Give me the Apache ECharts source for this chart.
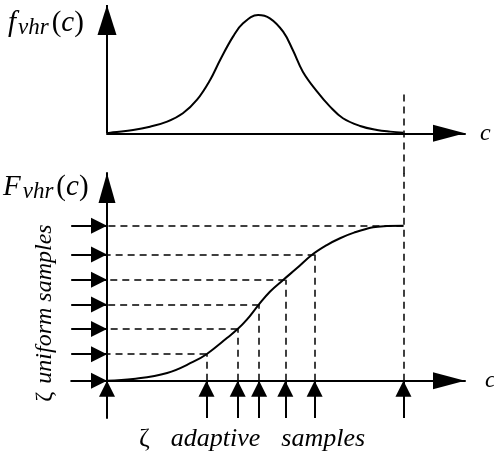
<!DOCTYPE html>
<html>
<head>
<meta charset="utf-8">
<script src="https://cdn.jsdelivr.net/npm/echarts@6/dist/echarts.min.js"></script>
<style>
html, body { margin: 0; padding: 0; background: #fff; }
#main { width: 494px; height: 456px; }
</style>
</head>
<body>
<div id="main"></div>
<script>
// density f_vhr(c)
var pdfC = [0, 1.7, 7.3, 12.0, 16.8, 21.2, 25.1, 28.8, 31.6, 35.2, 38.0, 42.2, 45.5, 49.2, 51.9, 54.7, 58.7, 62.3, 65.9, 70.7, 75.4, 79.1, 82.8]
var pdfF = [0, 0.008, 0.028, 0.056, 0.098, 0.169, 0.282, 0.451, 0.62, 0.817, 0.93, 1.0, 0.972, 0.859, 0.704, 0.521, 0.352, 0.225, 0.127, 0.062, 0.028, 0.014, 0.005]
// distribution F_vhr(c)
var cdfC = [0, 7.3, 16.8, 24.0, 27.8, 33.5, 36.5, 39.0, 42.3, 45.5, 49.2, 53.0, 57.2, 61.4, 65.1, 69.0, 74.3, 78.2, 82.8]
var cdfF = [0, 0.011, 0.05, 0.121, 0.171, 0.275, 0.333, 0.392, 0.488, 0.574, 0.65, 0.725, 0.811, 0.875, 0.919, 0.955, 0.99, 0.998, 1.0]
// uniform samples on the F axis and the c values they map to
var uniformLevels = [0, 0.171, 0.333, 0.492, 0.651, 0.815, 1.0]
var adaptiveSamples = [0, 27.8, 36.5, 42.5, 49.8, 58.0, 82.8]
// top of the dashed guide in the upper plot
var guideTop = 0.366

// axis ranges (they run past the data so the arrows fit in the grids)
var xMax = 100
var topYMin = -0.34
var topYMax = 1.085
var botXMin = -10
var botYMin = -0.24
var botYMax = 1.34

var serif = "'Liberation Serif', 'DejaVu Serif', serif"
var black = '#000'

function pairs (xs, ys) {
  var out = []
  for (var i = 0; i < xs.length; i++) out.push([xs[i], ys[i]])
  return out
}

function axisOpts (grid, min, max, line) {
  return {
    gridIndex: grid,
    type: 'value',
    min: min,
    max: max,
    axisLine: line,
    axisTick: { show: false },
    axisLabel: { show: false },
    splitLine: { show: false }
  }
}

function arrowLine (len) {
  return {
    show: true,
    onZero: true,
    symbol: ['none', 'triangle'],
    symbolSize: [17, len],
    symbolOffset: [0, -len / 2],
    lineStyle: { color: black, width: 2 }
  }
}

function marks (data, dashed, size) {
  return {
    silent: true,
    animation: false,
    symbol: dashed ? ['none', 'none'] : ['none', 'triangle'],
    symbolSize: size || 10,
    symbolOffset: [0, [0, size ? size[1] / 2 : 0]],
    label: { show: false },
    emphasis: { disabled: true },
    lineStyle: { color: black, width: dashed ? 1.5 : 2, type: dashed ? [7, 5] : 'solid' },
    data: data
  }
}

// dashed guides in the lower plot
var guides = []
for (var i = 1; i < uniformLevels.length; i++) {
  var c = adaptiveSamples[i]
  var L = uniformLevels[i]
  guides.push([{ coord: [c, L] }, { coord: [0, L] }])
  guides.push([{ coord: [c, 0] }, { coord: [c, i === uniformLevels.length - 1 ? botYMax : L] }])
}
// sample arrows in the lower plot
var sampleArrows = []
uniformLevels.forEach(function (L) {
  sampleArrows.push([{ coord: [botXMin, L] }, { coord: [0, L] }])
})
adaptiveSamples.forEach(function (c) {
  sampleArrows.push([{ coord: [c, botYMin] }, { coord: [c, 0] }])
})

var lastC = adaptiveSamples[adaptiveSamples.length - 1]

var nameStyle = { fontFamily: serif, fontStyle: 'italic', fontSize: 24, color: black, padding: [0, 0, 6, 0] }
var labelRich = {
  m: { fontFamily: serif, fontStyle: 'italic', fontSize: 29, lineHeight: 32, color: black },
  p: { fontFamily: serif, fontSize: 29, lineHeight: 32, color: black },
  s: { fontFamily: serif, fontStyle: 'italic', fontSize: 23, lineHeight: 17, verticalAlign: 'bottom', color: black, padding: [0, 3, 0, 2] }
}
var sampleRich = function (size) {
  return {
    z: { fontFamily: serif, fontSize: size, color: black },
    i: { fontFamily: serif, fontStyle: 'italic', fontSize: size, color: black, padding: [0, 0, 0, 8] },
    g: { fontFamily: serif, fontStyle: 'italic', fontSize: size, color: black, padding: [0, 0, 0, 21] }
  }
}

var myChart = echarts.init(document.getElementById('main'))
var option = {
  animation: false,
  backgroundColor: '#fff',
  grid: [
    { left: 107, right: 29, top: 4.94, bottom: 282.5, outerBoundsMode: 'none', containLabel: false },
    { left: 71.2, right: 29, top: 173, bottom: 38.1, outerBoundsMode: 'none', containLabel: false }
  ],
  xAxis: [
    Object.assign(axisOpts(0, 0, xMax, arrowLine(32)), { name: 'c', nameLocation: 'end', nameGap: 15, nameTextStyle: nameStyle }),
    Object.assign(axisOpts(1, botXMin, xMax, arrowLine(32)), { name: 'c', nameLocation: 'end', nameGap: 20, nameTextStyle: nameStyle })
  ],
  yAxis: [
    axisOpts(0, topYMin, topYMax, { show: false }),
    axisOpts(1, botYMin, botYMax, arrowLine(30))
  ],
  graphic: [
    { type: 'text', x: 8, y: 7, style: { text: '{m|f}{s|vhr}{p|(}{m|c}{p|)}', rich: labelRich, align: 'left', verticalAlign: 'top' } },
    { type: 'text', x: 3, y: 171, style: { text: '{m|F}{s|vhr}{p|(}{m|c}{p|)}', rich: labelRich, align: 'left', verticalAlign: 'top' } },
    { type: 'text', x: 45, y: 313, rotation: Math.PI / 2, style: { text: '{z|ζ}{i|uniform samples}', rich: sampleRich(24), align: 'center', verticalAlign: 'middle' } },
    { type: 'text', x: 252, y: 439, style: { text: '{z|ζ}{g|adaptive}{g|samples}', rich: sampleRich(26), align: 'center', verticalAlign: 'middle' } }
  ],
  series: [{
    type: 'line',
    xAxisIndex: 0,
    yAxisIndex: 0,
    data: pairs(pdfC, pdfF),
    smooth: 0.4,
    showSymbol: false,
    silent: true,
    lineStyle: { color: black, width: 2 }
  }, {
    type: 'line',
    xAxisIndex: 0,
    yAxisIndex: 0,
    data: [],
    markLine: marks([[{ coord: [0, 0] }, { coord: [0, topYMax] }]], false, [19, 30])
  }, {
    type: 'line',
    xAxisIndex: 0,
    yAxisIndex: 0,
    data: [],
    markLine: marks([[{ coord: [lastC, topYMin] }, { coord: [lastC, guideTop] }]], true)
  }, {
    type: 'line',
    xAxisIndex: 1,
    yAxisIndex: 1,
    data: [],
    markLine: marks(guides, true)
  }, {
    type: 'line',
    xAxisIndex: 1,
    yAxisIndex: 1,
    data: pairs(cdfC, cdfF),
    smooth: 0.4,
    showSymbol: false,
    silent: true,
    lineStyle: { color: black, width: 2 }
  }, {
    type: 'line',
    xAxisIndex: 1,
    yAxisIndex: 1,
    data: [],
    markLine: marks(sampleArrows, false, [16, 16])
  }]
}
myChart.setOption(option)
</script>
</body>
</html>
